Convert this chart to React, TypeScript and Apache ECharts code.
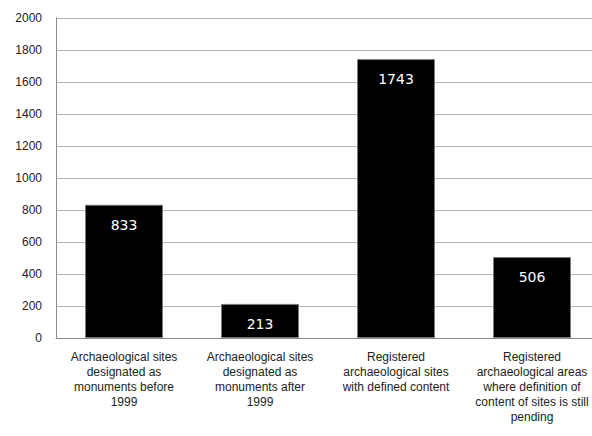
import React, { useEffect, useRef } from "react";
import * as echarts from "echarts";

const categories = [
  "Archaeological sites\ndesignated as\nmonuments before\n1999",
  "Archaeological sites\ndesignated as\nmonuments after\n1999",
  "Registered\narchaeological sites\nwith defined content",
  "Registered\narchaeological areas\nwhere definition of\ncontent of sites is still\npending",
];
const values = [833, 213, 1743, 506];
const yTicks = { min: 0, max: 2000, interval: 200 };

export default function App() {
  const ref = useRef<HTMLDivElement>(null);
  useEffect(() => {
    document.body.style.margin = "0";
    document.body.style.overflow = "hidden";
    const chart = echarts.init(ref.current!, undefined, { renderer: "svg" });
    chart.setOption({
      animation: false,
      backgroundColor: "#ffffff",
      grid: { left: 56, right: 20, top: 18, bottom: 98 },
      xAxis: {
        type: "category",
        data: categories,
        axisTick: { show: false },
        axisLine: { lineStyle: { color: "#8c8c8c", width: 1 } },
        axisLabel: {
          color: "#222",
          fontFamily: "Liberation Sans",
          fontSize: 12,
          lineHeight: 15,
          margin: 11,
          interval: 0,
        },
      },
      yAxis: {
        type: "value",
        min: yTicks.min,
        max: yTicks.max,
        interval: yTicks.interval,
        axisLine: { show: true, lineStyle: { color: "#8c8c8c", width: 1 } },
        axisTick: { show: false },
        splitLine: { lineStyle: { color: "#b5b5b5", width: 1 } },
        axisLabel: {
          color: "#222",
          fontFamily: "Liberation Sans",
          fontSize: 12,
          margin: 14,
          formatter: (v: number) => String(v),
        },
      },
      series: [
        {
          type: "bar",
          data: values,
          barWidth: 78,
          itemStyle: { color: "#000000", borderColor: "#7a7a7a", borderWidth: 1 },
          label: {
            show: true,
            position: "insideTop",
            distance: 13,
            color: "#ffffff",
            fontFamily: "DejaVu Sans",
            fontSize: 14,
          },
        },
      ],
    });
    return () => chart.dispose();
  }, []);
  return <div ref={ref} style={{ width: 620, height: 436 }} />;
}
